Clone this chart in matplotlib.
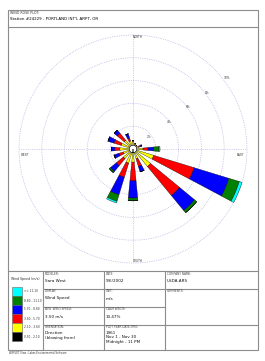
import matplotlib
matplotlib.use('Agg')
import matplotlib.pyplot as plt
import numpy as np
from matplotlib.patches import Rectangle

# wind directions (blowing from), 16 sectors
directions = ['N', 'NNE', 'NE', 'ENE', 'E', 'ESE', 'SE', 'SSE',
              'S', 'SSW', 'SW', 'WSW', 'W', 'WNW', 'NW', 'NNW']

# frequency (%) per speed class, per direction
speed_0_5 = [0.30, 0.25, 0.25, 0.25, 0.30, 0.30, 0.30, 0.30, 0.30, 0.30, 0.30, 0.30, 0.30, 0.30, 0.30, 0.30]
speed_2_1 = [0.35, 0.20, 0.15, 0.25, 0.58, 1.60, 1.70, 0.60, 0.85, 1.00, 0.80, 0.60, 0.85, 0.80, 0.70, 0.45]
speed_3_6 = [0.07, 0.05, 0.02, 0.20, 0.44, 3.70, 3.30, 0.70, 1.65, 1.30, 0.80, 0.40, 0.45, 0.65, 0.80, 0.25]
speed_5_7 = [0.00, 0.00, 0.00, 0.10, 0.50, 3.20, 1.70, 0.50, 1.50, 1.60, 0.65, 0.45, 0.30, 0.55, 0.35, 0.40]
speed_8_8 = [0.00, 0.00, 0.00, 0.00, 0.46, 0.95, 0.25, 0.00, 0.25, 0.60, 0.15, 0.00, 0.00, 0.00, 0.00, 0.00]
speed_11_1 = [0.00, 0.00, 0.00, 0.00, 0.09, 0.25, 0.00, 0.00, 0.00, 0.15, 0.00, 0.00, 0.00, 0.00, 0.00, 0.00]

speed_bins = [speed_0_5, speed_2_1, speed_3_6, speed_5_7, speed_8_8, speed_11_1]
bin_colors = ['#000000', '#ffff00', '#ff0000', '#0000ff', '#008000', '#00ffff']
bin_labels = ['0.50 - 2.10', '2.10 - 3.60', '3.60 - 5.70', '5.70 - 8.80', '8.80 - 11.10', '>= 11.10']

ring_values = [2, 4, 6, 8, 10]
ring_labels = ['2%', '4%', '6%', '8%', '10%']

W, H = 265, 361
fig = plt.figure(figsize=(W / 100, H / 100), dpi=100)
fig.patch.set_facecolor('white')

# page layout in pixel coords
bg = fig.add_axes([0, 0, 1, 1])
bg.set_xlim(0, W)
bg.set_ylim(H, 0)
bg.axis('off')

edge = '#8c8c8c'
bg.add_patch(Rectangle((8, 10), 250, 340, fill=False, ec=edge, lw=0.8))
bg.plot([8, 258], [27, 27], color=edge, lw=0.8)
bg.plot([8, 258], [271, 271], color=edge, lw=0.8)
for x in [43, 104, 165]:
    bg.plot([x, x], [271, 350], color=edge, lw=0.8)
for y in [289, 307, 325]:
    bg.plot([43, 165], [y, y], color=edge, lw=0.8)
for y in [289, 325]:
    bg.plot([165, 258], [y, y], color=edge, lw=0.8)

bg.text(10, 13, 'WIND ROSE PLOT:', fontsize=2.3, color='#333333', va='center')
bg.text(10, 19.5, "Station #24229 - PORTLAND INT'L ARPT, OR", fontsize=2.9, va='center')

hdr = dict(fontsize=2.1, color='#444444', va='center')
val = dict(fontsize=3.0, color='#111111', va='center')

bg.text(45, 274, 'MODELER:', **hdr)
bg.text(45, 280.5, 'Sara West', **val)
bg.text(45, 291.5, 'DISPLAY:', **hdr)
bg.text(45, 298.5, 'Wind Speed', **val)
bg.text(45, 309.5, 'AVG. WIND SPEED:', **hdr)
bg.text(45, 316.5, '3.50 m/s', **val)
bg.text(45, 327.5, 'ORIENTATION:', **hdr)
bg.text(45, 333, 'Direction', **val)
bg.text(45, 338, '(blowing from)', **val)

bg.text(106, 274, 'DATE:', **hdr)
bg.text(106, 280.5, '9/6/2002', **val)
bg.text(106, 291.5, 'UNIT:', **hdr)
bg.text(106, 298.5, 'm/s', **val)
bg.text(106, 309.5, 'CALM WINDS:', **hdr)
bg.text(106, 316.5, '10.47%', **val)
bg.text(106, 327.5, 'PLOT YEAR-DATE-TIME:', **hdr)
bg.text(106, 332.5, '1961', **val)
bg.text(106, 337, 'Nov 1 - Nov 30', **val)
bg.text(106, 341.5, 'Midnight - 11 PM', **val)

bg.text(167, 274, 'COMPANY NAME:', **hdr)
bg.text(167, 280.5, 'USDA-ARS', **val)
bg.text(167, 291.5, 'COMMENTS:', **hdr)

bg.text(9, 353.5, 'WRPLOT View - Lakes Environmental Software',
        fontsize=1.8, color='#333333', va='center')

# legend
bg.text(25.5, 279, 'Wind Speed (m/s)', fontsize=2.3, color='#333333', ha='center', va='center')
for i, (c, lab) in enumerate(zip(bin_colors[::-1], bin_labels[::-1])):
    y0 = 287 + i * 9
    bg.add_patch(Rectangle((12, y0), 10, 9, fc=c, ec='#666666', lw=0.4))
    bg.text(24, y0 + 4.5, lab, fontsize=2.1, color='#333333', va='center')

# wind rose
cx, cy, rad = 133, 149, 114
ax = fig.add_axes([(cx - rad) / W, (H - cy - rad) / H, 2 * rad / W, 2 * rad / H],
                  projection='polar')
ax.set_theta_zero_location('N')
ax.set_theta_direction(-1)
ax.set_facecolor('none')
ax.set_ylim(0, 10)
ax.spines['polar'].set_visible(False)
ax.grid(False)
ax.set_xticks([])
ax.set_yticks([])

ring_col = '#a4a4dc'
t = np.linspace(0, 2 * np.pi, 400)
for r, lab in zip(ring_values, ring_labels):
    ax.plot(t, np.full_like(t, r), color=ring_col, lw=0.5, ls=(0, (1, 1.6)), clip_on=False)
    ax.text(np.deg2rad(53), r * 1.06 - 0.3, lab, fontsize=2.1, color='#333333',
            ha='center', va='center', clip_on=False)
for a in [0, np.pi / 2]:
    ax.plot([a, a + np.pi], [10, 10], color=ring_col, lw=0.5, ls=(0, (1, 1.6)))

ax.text(0, 9.8, 'NORTH', fontsize=2.1, ha='left', va='center', color='#333333')
ax.text(np.pi, 9.8, 'SOUTH', fontsize=2.1, ha='left', va='center', color='#333333')
ax.text(np.deg2rad(268), 9.45, 'WEST', fontsize=2.1, ha='center', va='top', color='#333333')
ax.text(np.deg2rad(92), 9.4, 'EAST', fontsize=2.1, ha='center', va='top', color='#333333')

theta = np.deg2rad(np.arange(16) * 22.5)
bottom = np.zeros(16)
for vals, c in zip(speed_bins, bin_colors):
    v = np.array(vals)
    ax.bar(theta, v, width=np.deg2rad(11), bottom=bottom, color=c,
           edgecolor='black', linewidth=0.25, clip_on=False, zorder=3)
    bottom += v

# calm circle
ax.bar([0], [0.33], width=2 * np.pi, bottom=0, color='white', edgecolor='black',
       linewidth=0.4, zorder=4)

fig.savefig('out.png', dpi=100)
